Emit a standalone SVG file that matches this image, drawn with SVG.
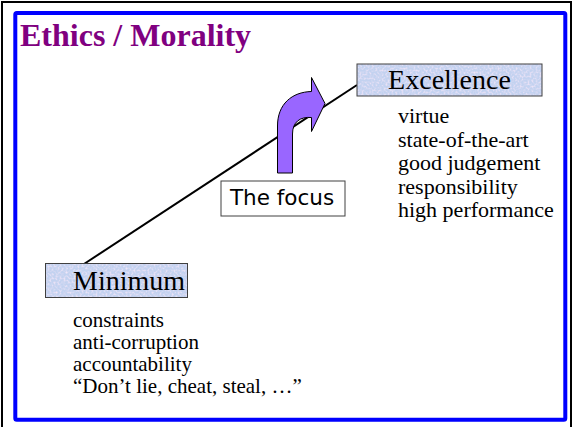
<svg xmlns="http://www.w3.org/2000/svg" width="572" height="427" viewBox="0 0 572 427">
  <defs>
    <style>
      .title { font-family: "Liberation Serif", "Times New Roman", serif; font-weight: bold; font-size: 32px; fill: #800080; }
      .boxlabel { font-family: "Liberation Serif", "Times New Roman", serif; font-size: 28px; fill: #000000; }
      .item { font-family: "Liberation Serif", "Times New Roman", serif; font-size: 22px; fill: #000000; }
      .item-s { font-family: "Liberation Serif", "Times New Roman", serif; font-size: 21px; fill: #000000; }
      .focus { font-family: "DejaVu Sans", Verdana, sans-serif; font-size: 21.5px; fill: #000000; }
      .boxfill { fill: #c3d2f0; }
      .boxedge { fill: none; stroke: #404040; stroke-width: 1; }
      .connector { fill: none; stroke: #000000; stroke-width: 2; }
    </style>
    <!-- mottled "blue tissue" texture for the level boxes -->
    <filter id="tissue" x="0" y="0" width="100%" height="100%">
      <feTurbulence type="fractalNoise" baseFrequency="0.5" numOctaves="2" seed="7" result="noise"/>
      <feColorMatrix in="noise" type="matrix" values="0 0 0 0 0.90  0 0 0 0 0.80  0 0 0 0 0.94  2.2 0 0 0 -0.95" result="spots"/>
      <feComposite in="spots" in2="SourceAlpha" operator="in" result="clipped"/>
      <feMerge>
        <feMergeNode in="SourceGraphic"/>
        <feMergeNode in="clipped"/>
      </feMerge>
    </filter>
  </defs>

  <!-- page background and frames -->
  <rect x="0" y="0" width="572" height="427" fill="#ffffff"/>
  <rect x="2" y="2" width="569" height="440" fill="none" stroke="#000000" stroke-width="2"/>
  <rect x="15.3" y="13" width="550" height="406.7" rx="1.5" fill="none" stroke="#0000ff" stroke-width="4"/>

  <text class="title" x="20" y="46">Ethics / Morality</text>

  <!-- connector between the two levels -->
  <g id="connectors">
    <line class="connector" x1="84" y1="264" x2="357" y2="85"/>
  </g>

  <!-- curved "focus" arrow -->
  <g id="focus-arrow">
    <path d="M 277.5 173 L 277.5 126 C 277.5 104, 292 92, 311.5 91.5 L 311.5 77.5 L 325 103.5 L 311.5 131.5 L 311.5 117.5 C 300 116.5, 292.5 122, 292.5 134 L 292.5 173 Z" fill="#9966ff" stroke="#000000" stroke-width="1"/>
  </g>

  <g id="focus">
    <rect x="221" y="181" width="124" height="35" fill="#ffffff" stroke="#404040" stroke-width="1"/>
    <text class="focus" x="282" y="205" text-anchor="middle">The focus</text>
  </g>

  <g id="excellence">
    <rect class="boxfill" x="357" y="64" width="185" height="32" filter="url(#tissue)"/>
    <rect class="boxedge" x="357" y="64" width="185" height="32"/>
    <text class="boxlabel" x="449.5" y="89" text-anchor="middle">Excellence</text>
    <text class="item" x="398" y="123">virtue</text>
    <text class="item" x="398" y="146.5">state-of-the-art</text>
    <text class="item" x="398" y="170">good judgement</text>
    <text class="item" x="398" y="193.5">responsibility</text>
    <text class="item" x="398" y="217">high performance</text>
  </g>

  <g id="minimum">
    <rect class="boxfill" x="45.5" y="263.5" width="142" height="34" filter="url(#tissue)"/>
    <rect class="boxedge" x="45.5" y="263.5" width="142" height="34"/>
    <text class="boxlabel" x="73" y="290">Minimum</text>
    <text class="item-s" x="73" y="327">constraints</text>
    <text class="item-s" x="73" y="349">anti-corruption</text>
    <text class="item-s" x="73" y="371">accountability</text>
    <text class="item-s" x="73" y="393">“Don’t lie, cheat, steal, …”</text>
  </g>
</svg>
